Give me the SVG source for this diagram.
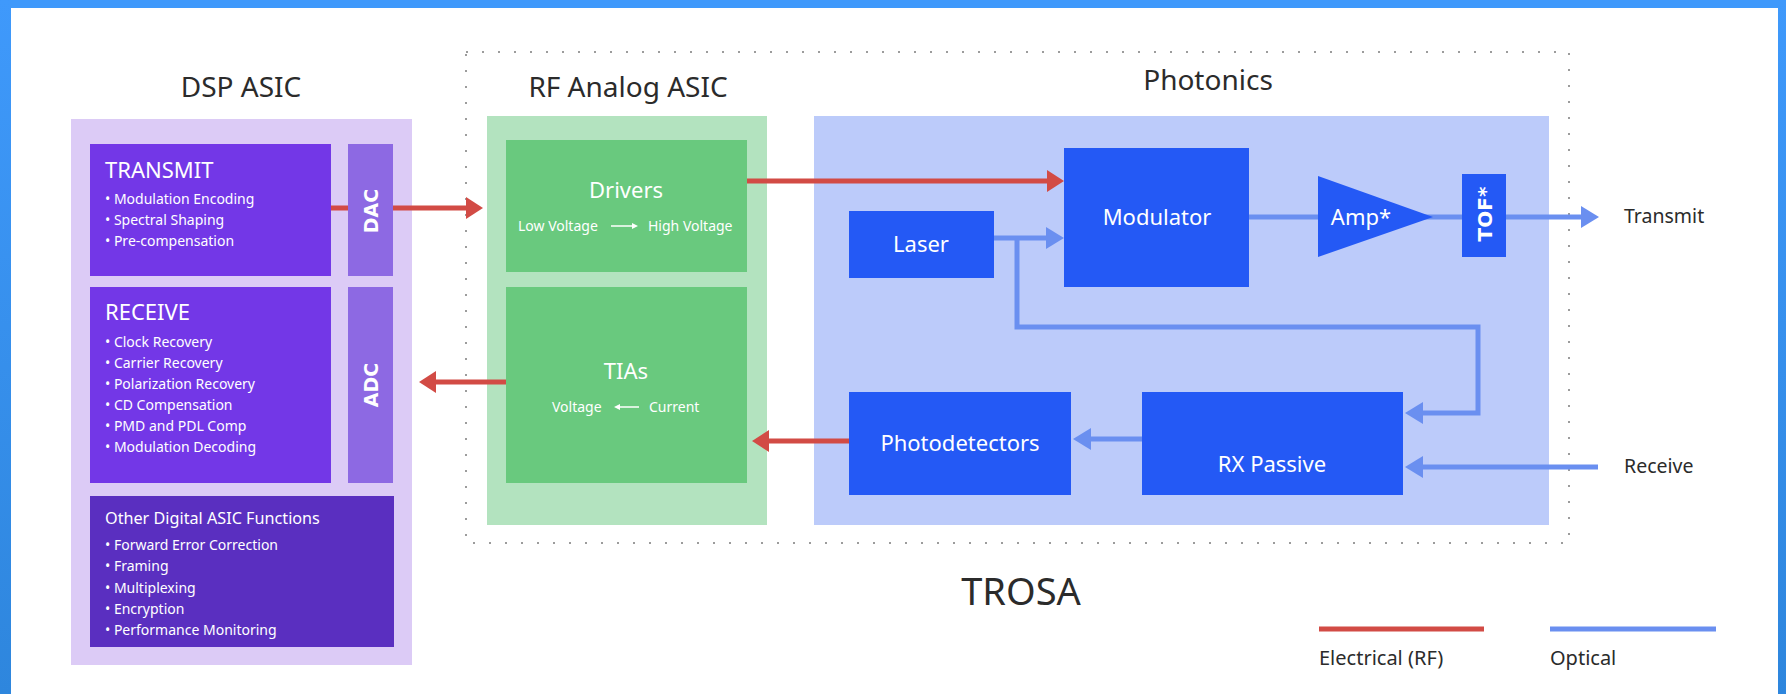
<svg xmlns="http://www.w3.org/2000/svg" width="1786" height="694" viewBox="0 0 1786 694">
<defs>
<linearGradient id="frameGrad" x1="0" y1="0" x2="0" y2="1">
<stop offset="0" stop-color="#3f99fb"/>
<stop offset="1" stop-color="#2e86dd"/>
</linearGradient>
<marker id="headRed" markerUnits="userSpaceOnUse" markerWidth="18" markerHeight="22" refX="0" refY="11" orient="auto">
<path d="M0,0 L17,11 L0,22 Z" fill="#d24b45"/>
</marker>
<marker id="headBlue" markerUnits="userSpaceOnUse" markerWidth="20" markerHeight="22" refX="0" refY="11" orient="auto">
<path d="M0,0 L18,11 L0,22 Z" fill="#6a8ff0"/>
</marker>
<style>
.title{font-family:"Noto Sans","Open Sans",sans-serif;font-size:28px;fill:#2b2b2b;text-anchor:middle}
.head{font-family:"Noto Sans","Open Sans",sans-serif;font-size:22px;fill:#ffffff}
.bul{font-family:"Noto Sans","Open Sans",sans-serif;font-size:14px;fill:#ffffff}
.node{font-family:"Noto Sans","Open Sans",sans-serif;font-size:22px;fill:#ffffff;text-anchor:middle}
.small{font-family:"Noto Sans","Open Sans",sans-serif;font-size:14px;fill:#ffffff}
.vert{font-family:"DejaVu Sans","Verdana",sans-serif;font-weight:bold;font-size:19px;fill:#ffffff;text-anchor:middle;dominant-baseline:central}
.lbl{font-family:"Noto Sans","Open Sans",sans-serif;font-size:19.5px;fill:#2b2b2b}
.leg{font-family:"Noto Sans","Open Sans",sans-serif;font-size:20px;fill:#2b2b2b}
.red{stroke:#d24b45;stroke-width:5;fill:none}
.opt{stroke:#6a8ff0;stroke-width:5;fill:none}
.dark{fill:#2459f5}
.wl{stroke:#ffffff;stroke-width:1.5;fill:none}
</style>
</defs>
<rect x="0" y="0" width="1786" height="694" fill="#ffffff"/>
<g id="frame">
<rect x="0" y="0" width="1786" height="8" fill="#3f99fb"/>
<rect x="0" y="0" width="11" height="694" fill="url(#frameGrad)"/>
<rect x="1778" y="0" width="8" height="694" fill="url(#frameGrad)"/>
</g>
<g id="trosa">
<rect x="466" y="52" width="1103" height="491" fill="none" stroke="#9c9c9c" stroke-width="2" stroke-dasharray="2 14"/>
<text class="title" x="1021" y="605" style="font-size:38px">TROSA</text>
</g>
<g id="dsp-asic">
<rect x="71" y="119" width="341" height="546" fill="#dccbf6"/>
<text class="title" x="241" y="97">DSP ASIC</text>
</g>
<g id="rf-analog-asic">
<rect x="487" y="116" width="280" height="409" fill="#b3e3bf"/>
<text class="title" x="628" y="97">RF Analog ASIC</text>
</g>
<g id="photonics">
<rect x="814" y="116" width="735" height="409" fill="#bccbfa"/>
<text class="title" x="1208" y="90">Photonics</text>
</g>
<g id="connectors">
<line class="red" x1="331" y1="208" x2="466" y2="208" marker-end="url(#headRed)"/>
<line class="red" x1="747" y1="181" x2="1047" y2="181" marker-end="url(#headRed)"/>
<line class="red" x1="849" y1="441" x2="769" y2="441" marker-end="url(#headRed)"/>
<line class="red" x1="506" y1="382" x2="436" y2="382" marker-end="url(#headRed)"/>
<line class="opt" x1="994" y1="238" x2="1046" y2="238" marker-end="url(#headBlue)"/>
<polyline class="opt" points="1017,238 1017,327 1478,327 1478,413 1423,413" marker-end="url(#headBlue)"/>
<line class="opt" x1="1249" y1="217" x2="1581" y2="217" marker-end="url(#headBlue)"/>
<line class="opt" x1="1598" y1="467" x2="1423" y2="467" marker-end="url(#headBlue)"/>
<line class="opt" x1="1142" y1="439" x2="1091" y2="439" marker-end="url(#headBlue)"/>
</g>
<g id="transmit">
<rect x="90" y="144" width="241" height="132" fill="#7337e7"/>
<text class="head" x="105" y="178">TRANSMIT</text>
<text class="bul" x="105" y="204">• Modulation Encoding</text>
<text class="bul" x="105" y="225">• Spectral Shaping</text>
<text class="bul" x="105" y="246">• Pre-compensation</text>
</g>
<g id="dac">
<rect x="348" y="144" width="45" height="132" fill="#8d69e3"/>
<text class="vert" transform="translate(371,211) rotate(-90)">DAC</text>
</g>
<g id="receive">
<rect x="90" y="287" width="241" height="196" fill="#7337e7"/>
<text class="head" x="105" y="320">RECEIVE</text>
<text class="bul" x="105" y="347">• Clock Recovery</text>
<text class="bul" x="105" y="368">• Carrier Recovery</text>
<text class="bul" x="105" y="389">• Polarization Recovery</text>
<text class="bul" x="105" y="410">• CD Compensation</text>
<text class="bul" x="105" y="431">• PMD and PDL Comp</text>
<text class="bul" x="105" y="452">• Modulation Decoding</text>
</g>
<g id="adc">
<rect x="348" y="287" width="45" height="196" fill="#8d69e3"/>
<text class="vert" transform="translate(371,385) rotate(-90)">ADC</text>
</g>
<g id="other-digital">
<rect x="90" y="496" width="304" height="151" fill="#5a2fc0"/>
<text class="head" x="105" y="524" style="font-size:16.2px">Other Digital ASIC Functions</text>
<text class="bul" x="105" y="550">• Forward Error Correction</text>
<text class="bul" x="105" y="571">• Framing</text>
<text class="bul" x="105" y="593">• Multiplexing</text>
<text class="bul" x="105" y="614">• Encryption</text>
<text class="bul" x="105" y="635">• Performance Monitoring</text>
</g>
<g id="drivers">
<rect x="506" y="140" width="241" height="132" fill="#69c97e"/>
<text class="node" x="626" y="198">Drivers</text>
<text class="small" x="518" y="231">Low Voltage</text>
<line class="wl" x1="611" y1="226" x2="633" y2="226"/>
<path d="M632,223 L638,226 L632,229 Z" fill="#ffffff"/>
<text class="small" x="648" y="231">High Voltage</text>
</g>
<g id="tias">
<rect x="506" y="287" width="241" height="196" fill="#69c97e"/>
<text class="node" x="626" y="379">TIAs</text>
<text class="small" x="552" y="412">Voltage</text>
<line class="wl" x1="618" y1="407" x2="639" y2="407"/>
<path d="M620,404 L614,407 L620,410 Z" fill="#ffffff"/>
<text class="small" x="649" y="412">Current</text>
</g>
<g id="laser">
<rect class="dark" x="849" y="211" width="145" height="67"/>
<text class="node" x="921" y="252">Laser</text>
</g>
<g id="modulator">
<rect class="dark" x="1064" y="148" width="185" height="139"/>
<text class="node" x="1157" y="225">Modulator</text>
</g>
<g id="amp">
<polygon class="dark" points="1318,176 1433,217 1318,257"/>
<text class="node" x="1361" y="225">Amp*</text>
</g>
<g id="tof">
<rect class="dark" x="1462" y="174" width="44" height="83"/>
<text class="vert" transform="translate(1485,214) rotate(-90)" style="font-size:20px">TOF*</text>
</g>
<g id="photodetectors">
<rect class="dark" x="849" y="392" width="222" height="103"/>
<text class="node" x="960" y="451">Photodetectors</text>
</g>
<g id="rx-passive">
<rect class="dark" x="1142" y="392" width="261" height="103"/>
<text class="node" x="1272" y="472">RX Passive</text>
</g>
<g id="labels">
<text class="lbl" x="1624" y="223">Transmit</text>
<text class="lbl" x="1624" y="473">Receive</text>
</g>
<g id="legend">
<line class="red" x1="1319" y1="629" x2="1484" y2="629"/>
<line class="opt" x1="1550" y1="629" x2="1716" y2="629"/>
<text class="leg" x="1319" y="665">Electrical (RF)</text>
<text class="leg" x="1550" y="665">Optical</text>
</g>
</svg>
